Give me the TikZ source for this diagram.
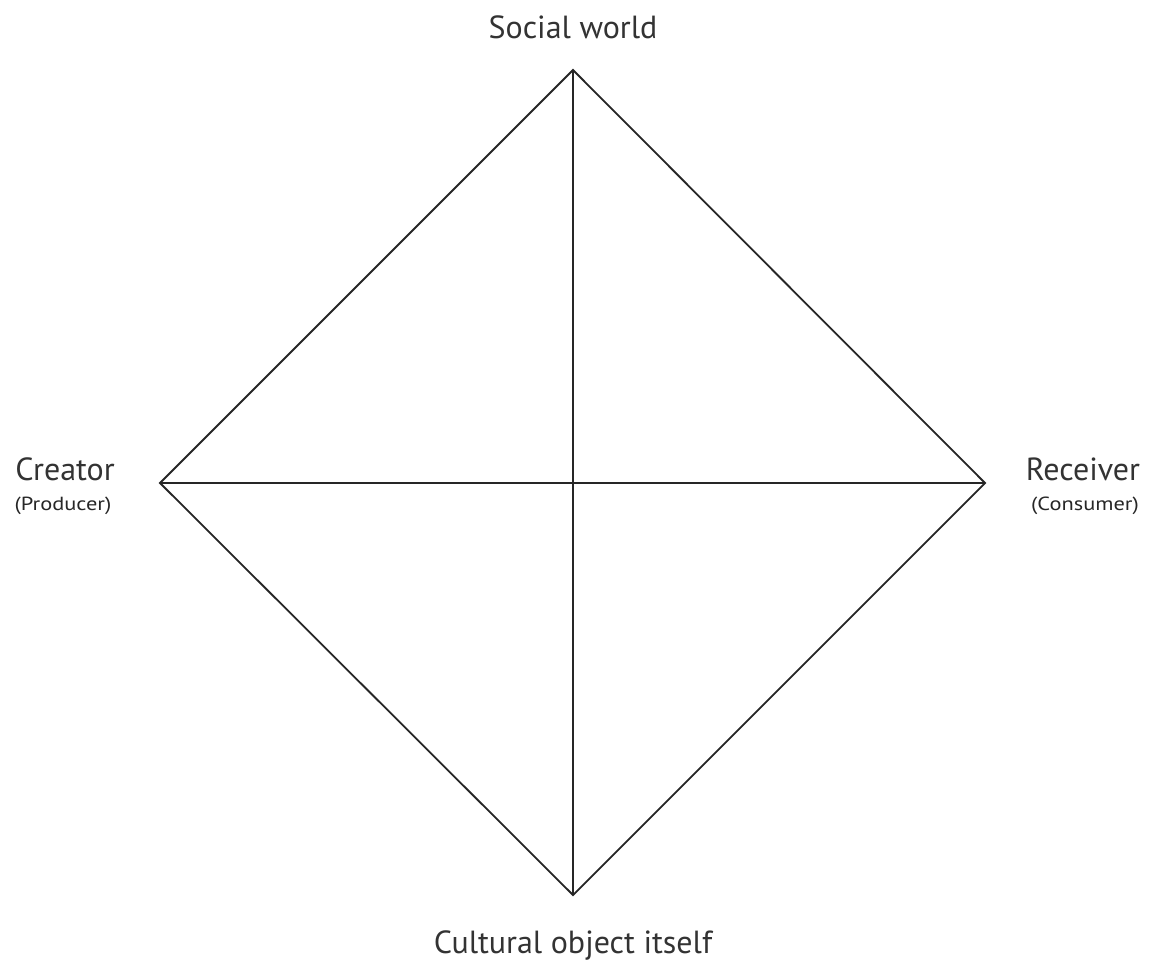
\documentclass[tikz,border=0pt]{standalone}
\usepackage{fontspec}
\setmainfont{PT Sans}
\begin{document}
\begin{tikzpicture}[x=1pt,y=-1pt,
  edge/.style={line width=1.8pt,black!85},
  big/.style={font=\fontsize{32}{34}\selectfont,text=black!80,inner sep=0pt},
  small/.style={font=\fontsize{19}{20}\selectfont,text=black!85,inner sep=0pt,xscale=1.18,transform shape}]
\useasboundingbox (0,0) rectangle (1150,975);
\coordinate (T) at (573,70);
\coordinate (L) at (160,483);
\coordinate (R) at (985,483);
\coordinate (B) at (573,895);
\draw[edge] (T) -- (R) -- (B) -- (L) -- cycle;
\draw[edge] (T) -- (B);
\draw[edge] (L) -- (R);
\node[big] (tl) at (573,27) {Social world};
\node[big] (bl) at (573,945) {Cultural object itself};
\node[big] (ll) at (65,469) {Creator};
\node[small] (ll2) at (63,506) {(Producer)};
\node[big] (rl) at (1083,469) {Receiver};
\node[small] (rl2) at (1085,506) {(Consumer)};
\end{tikzpicture}
\end{document}
